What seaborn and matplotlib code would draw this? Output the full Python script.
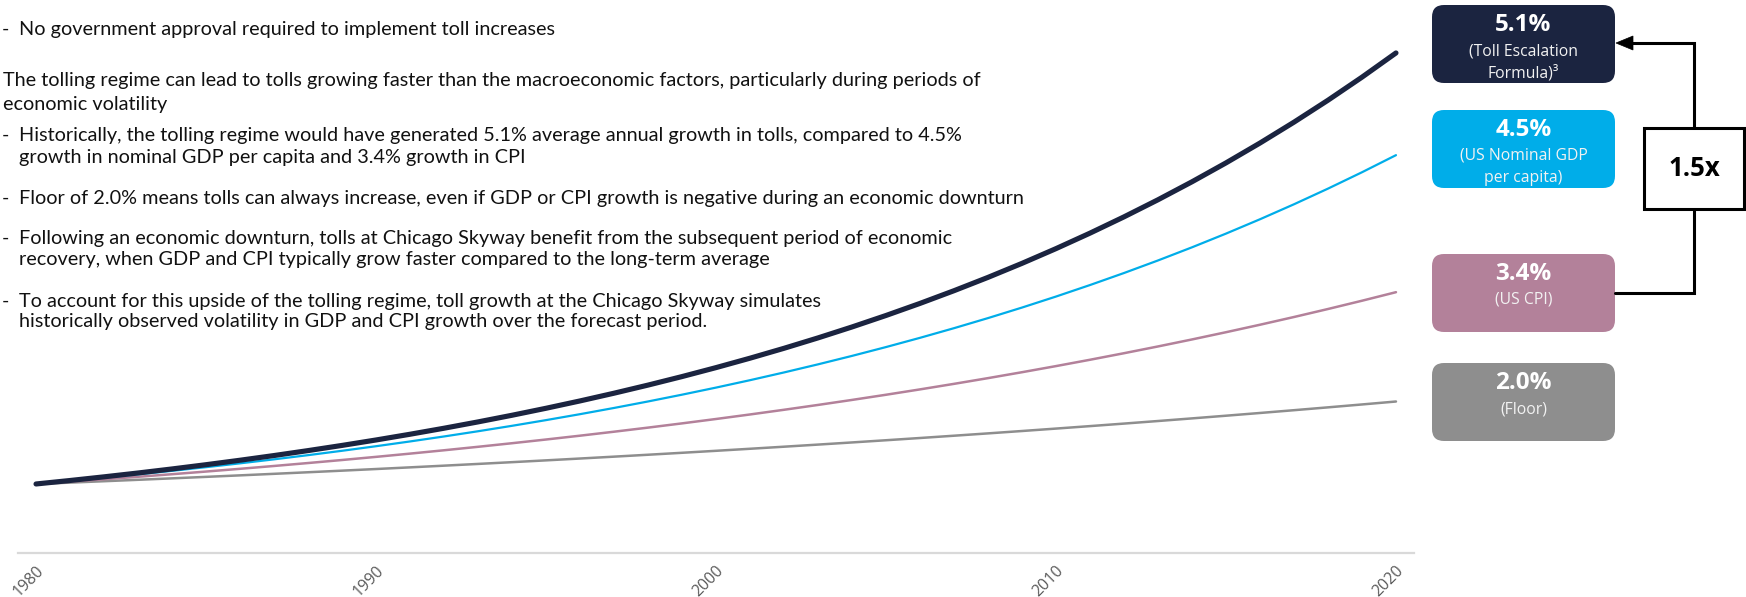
import matplotlib
matplotlib.use("Agg")
import matplotlib.pyplot as plt
import seaborn as sns
import pandas as pd
from matplotlib.patches import FancyBboxPatch, Rectangle, Polygon

# ---------------- data (index, 1980 = 1.0) ----------------
years = list(range(1980, 2021))
toll_formula = [1.000, 1.051, 1.1046, 1.1609, 1.2201, 1.2824, 1.3478, 1.4165, 1.4888, 1.5647,
                1.6445, 1.7284, 1.8165, 1.9092, 2.0065, 2.1089, 2.2164, 2.3295, 2.4483, 2.5731,
                2.7044, 2.8423, 2.9873, 3.1396, 3.2997, 3.4680, 3.6449, 3.8308, 4.0261, 4.2315,
                4.4473, 4.6741, 4.9125, 5.1630, 5.4263, 5.7031, 5.9939, 6.2996, 6.6209, 6.9586,
                7.3134]
gdp_per_capita = [1.000, 1.045, 1.0920, 1.1412, 1.1925, 1.2462, 1.3023, 1.3609, 1.4221, 1.4861,
                  1.5530, 1.6229, 1.6959, 1.7722, 1.8519, 1.9353, 2.0224, 2.1134, 2.2085, 2.3079,
                  2.4117, 2.5202, 2.6337, 2.7522, 2.8760, 3.0054, 3.1407, 3.2820, 3.4297, 3.5840,
                  3.7453, 3.9139, 4.0900, 4.2740, 4.4664, 4.6673, 4.8774, 5.0969, 5.3262, 5.5659,
                  5.8164]
cpi = [1.000, 1.034, 1.0692, 1.1055, 1.1431, 1.1820, 1.2222, 1.2637, 1.3067, 1.3511,
       1.3971, 1.4446, 1.4937, 1.5445, 1.5970, 1.6513, 1.7074, 1.7655, 1.8255, 1.8876,
       1.9518, 2.0181, 2.0868, 2.1577, 2.2311, 2.3069, 2.3854, 2.4665, 2.5503, 2.6370,
       2.7267, 2.8194, 2.9153, 3.0144, 3.1169, 3.2229, 3.3324, 3.4457, 3.5629, 3.6840,
       3.8093]
floor = [1.000, 1.020, 1.0404, 1.0612, 1.0824, 1.1041, 1.1262, 1.1487, 1.1717, 1.1951,
         1.2190, 1.2434, 1.2682, 1.2936, 1.3195, 1.3459, 1.3728, 1.4002, 1.4282, 1.4568,
         1.4859, 1.5157, 1.5460, 1.5769, 1.6084, 1.6406, 1.6734, 1.7069, 1.7410, 1.7758,
         1.8114, 1.8476, 1.8845, 1.9222, 1.9607, 1.9999, 2.0399, 2.0807, 2.1223, 2.1647,
         2.2080]

series_names = ["Toll Escalation Formula", "US Nominal GDP per capita", "US CPI", "Floor"]
growth_labels = ["5.1%", "4.5%", "3.4%", "2.0%"]
box_sublabels = ["(Toll Escalation\nFormula)\u00b3", "(US Nominal GDP\nper capita)", "(US CPI)", "(Floor)"]
tick_years = [1980, 1990, 2000, 2010, 2020]
multiple_label = "1.5x"

intro_bullet = "No government approval required to implement toll increases"
headline = ["The tolling regime can lead to tolls growing faster than the macroeconomic factors, particularly during periods of",
            "economic volatility"]
sub_bullets = [
    ["Historically, the tolling regime would have generated 5.1% average annual growth in tolls, compared to 4.5%",
     "growth in nominal GDP per capita and 3.4% growth in CPI"],
    ["Floor of 2.0% means tolls can always increase, even if GDP or CPI growth is negative during an economic downturn"],
    ["Following an economic downturn, tolls at Chicago Skyway benefit from the subsequent period of economic",
     "recovery, when GDP and CPI typically grow faster compared to the long-term average"],
    ["To account for this upside of the tolling regime, toll growth at the Chicago Skyway simulates",
     "historically observed volatility in GDP and CPI growth over the forecast period."],
]

# ---------------- style ----------------
sns.set_theme(style="white")
plt.rcParams['font.family'] = ['Lato', 'DejaVu Sans']

W, H = 1746, 597
fig = plt.figure(figsize=(W / 100, H / 100), dpi=100)
ax = fig.add_axes([18 / W, 1 - 553 / H, (1414 - 18) / W, 553 / H])

df = pd.DataFrame({
    "year": years * 4,
    "index": toll_formula + gdp_per_capita + cpi + floor,
    "series": sum([[n] * len(years) for n in series_names], []),
})

colors = {"Toll Escalation Formula": "#1b2440",
          "US Nominal GDP per capita": "#00ade9",
          "US CPI": "#b3819a",
          "Floor": "#8e8e8e"}
widths = {"Toll Escalation Formula": 3.7,
          "US Nominal GDP per capita": 1.6,
          "US CPI": 1.8,
          "Floor": 1.8}

for name in ["Floor", "US CPI", "US Nominal GDP per capita", "Toll Escalation Formula"]:
    sns.lineplot(data=df[df["series"] == name], x="year", y="index", ax=ax,
                 color=colors[name], linewidth=widths[name], errorbar=None,
                 legend=False, solid_capstyle="round")

ax.set_xlim(1979.47, 2020.53)
ax.set_ylim(-0.011, 8.089)
ax.set_xticks(tick_years)
ax.set_xticklabels([str(y) for y in tick_years], rotation=45, ha="right", va="top",
                   rotation_mode="anchor", fontsize=11.5, color="#5a5a5a",
                   family=["Open Sans", "DejaVu Sans"])
ax.tick_params(axis="x", length=0, pad=7)
ax.set_yticks([])
ax.set_xlabel("")
ax.set_ylabel("")
for s in ["top", "left", "right"]:
    ax.spines[s].set_visible(False)
ax.spines["bottom"].set_color("#d9d9d9")
ax.spines["bottom"].set_linewidth(1.6)
ax.patch.set_alpha(0)

# ---------------- overlay in pixel coords ----------------
ov = fig.add_axes([0, 0, 1, 1])
ov.set_xlim(0, W)
ov.set_ylim(H, 0)
ov.axis("off")

text_color = "#111111"
probe = ov.text(3, 86, headline[0], fontsize=12, color=text_color)
fig.canvas.draw()
wpx = probe.get_window_extent().width
fs = 12 * 975 / wpx
probe.remove()

def put(x, y, s):
    ov.text(x, y, s, fontsize=fs, color=text_color, ha="left", va="baseline")

# intro bullet
put(2, 35, "-")
put(19, 35, intro_bullet)
# headline
put(3, 86, headline[0])
put(3, 110, headline[1])
# sub bullets
bullet_baselines = [[141, 163], [204], [244, 265], [307, 327]]
for lines, ys in zip(sub_bullets, bullet_baselines):
    put(2, ys[0], "-")
    for s, y in zip(lines, ys):
        put(19, y, s)

# ---------------- right-hand boxes ----------------
box_x0, box_x1 = 1432, 1615
box_tops = [5, 110, 254, 363]
box_h = 78
box_colors = [colors[n] for n in series_names]
rad = 12
box_font = ["Open Sans", "DejaVu Sans"]
for top, col, pct, sub in zip(box_tops, box_colors, growth_labels, box_sublabels):
    ov.add_patch(FancyBboxPatch((box_x0 + rad, top + rad), box_x1 - box_x0 - 2 * rad, box_h - 2 * rad,
                                boxstyle=f"round,pad={rad}", facecolor=col, edgecolor="none"))
    cx = (box_x0 + box_x1) / 2
    ov.text(cx, top + 20, pct, ha="center", va="center", fontsize=17.5, fontweight="bold",
            color="white", family=box_font)
    sub_lines = sub.split("\n")
    for i, s in enumerate(sub_lines):
        ov.text(cx, top + 46 + 22 * i, s, ha="center", va="center", fontsize=11.3,
                color="#f2f2f2", family=box_font)

# connector and multiple box
lw_conn = 2.2
ov.plot([box_x1, 1694, 1694], [293, 293, 209], color="black", lw=lw_conn, solid_joinstyle="miter")
ov.plot([1694, 1694, 1630], [128, 43, 43], color="black", lw=lw_conn, solid_joinstyle="miter")
ov.add_patch(Polygon([[box_x1 + 1, 43], [box_x1 + 18, 36], [box_x1 + 18, 50]], closed=True,
                     facecolor="black", edgecolor="black", lw=0.5))
ov.add_patch(Rectangle((1644, 128), 100, 81, facecolor="white", edgecolor="black", lw=lw_conn))
ov.text(1694, 169, multiple_label, ha="center", va="center", fontsize=18.5, fontweight="bold",
        color="black", family=box_font)

fig.savefig("out.png", dpi=100)
